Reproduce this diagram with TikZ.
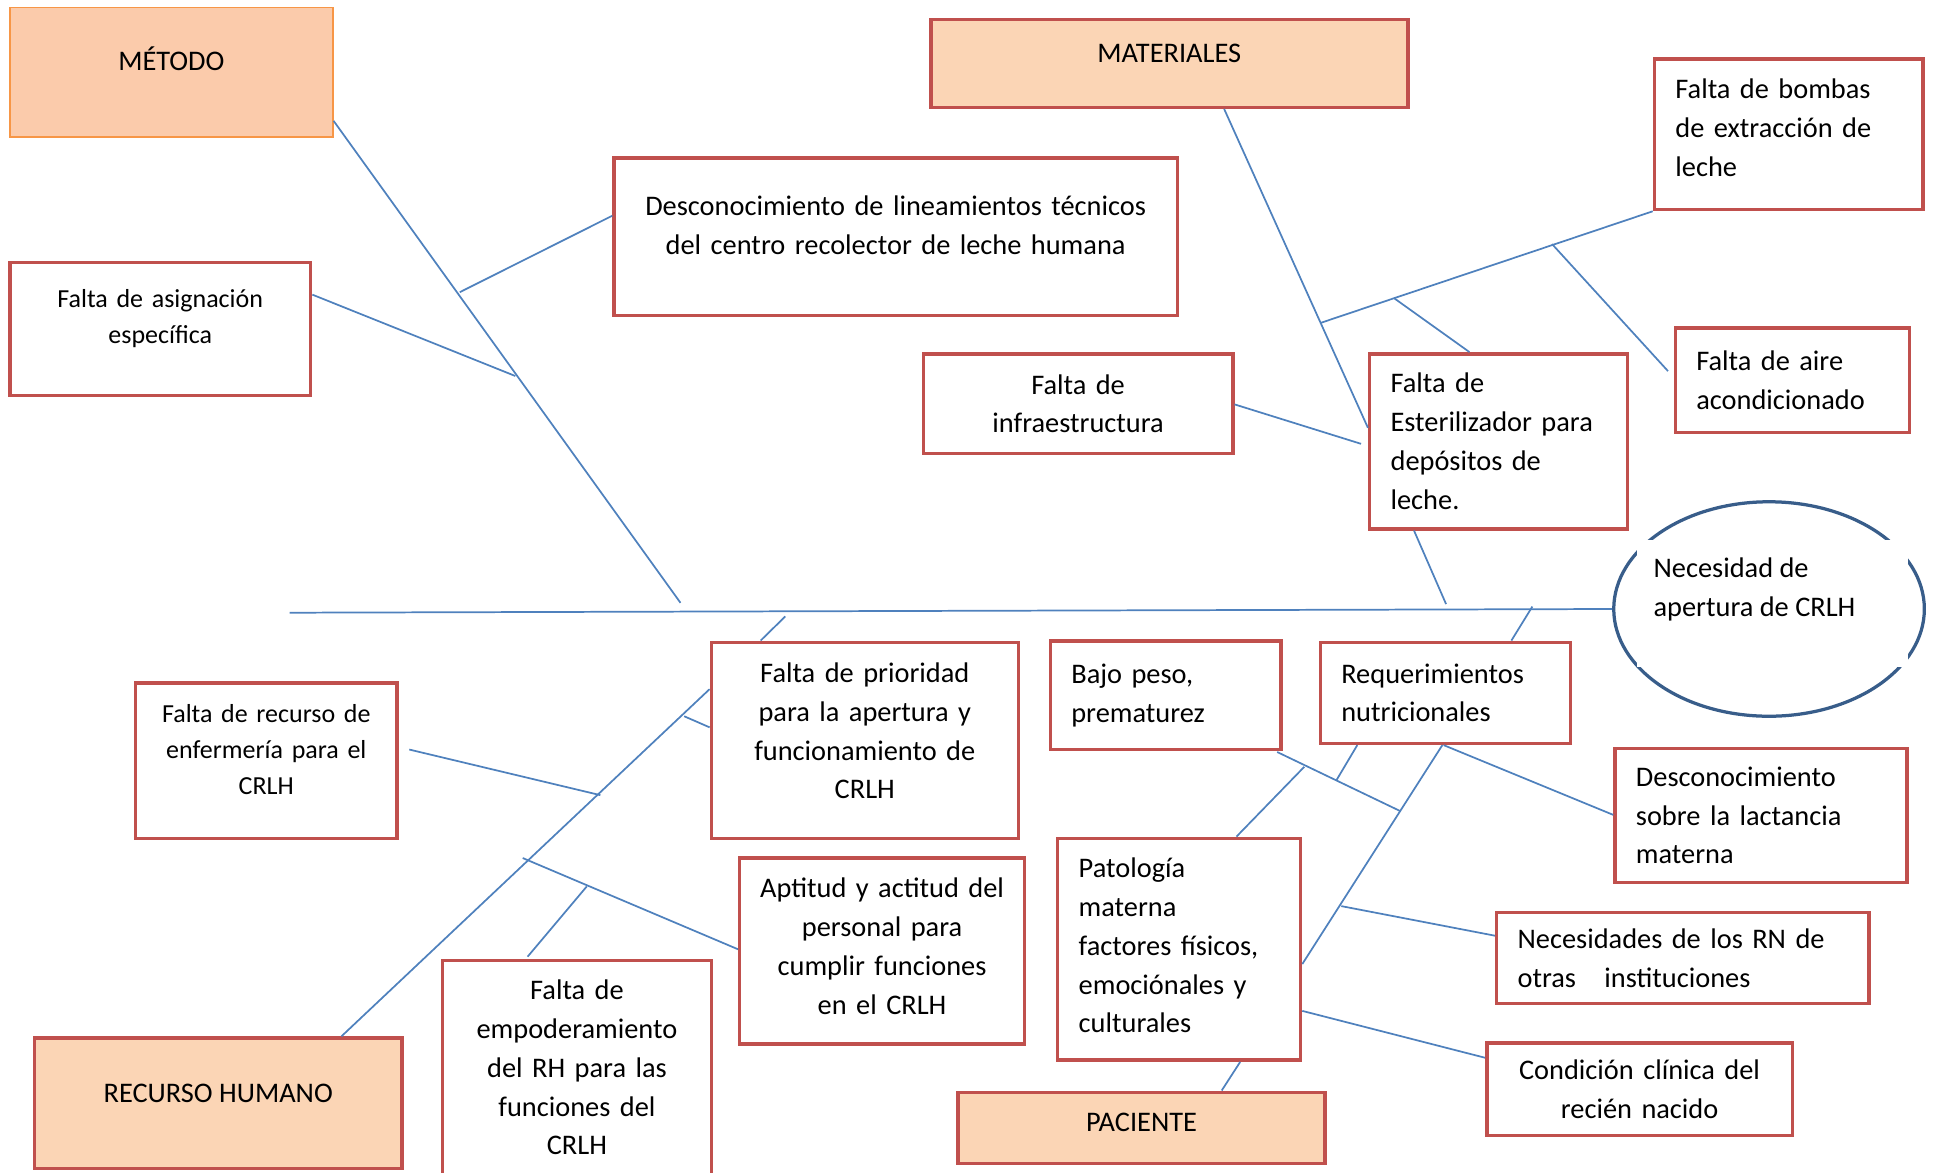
\documentclass[tikz,border=0pt]{standalone}
\usepackage{fontspec}
\setmainfont{Carlito}
\usepackage{tikz}
\usetikzlibrary{shapes.geometric}

\definecolor{boxred}{HTML}{C0504D}
\definecolor{peach}{HTML}{FBD5B5}
\definecolor{peachm}{HTML}{FBCBAB}
\definecolor{headorange}{HTML}{F79646}
\definecolor{bonecol}{HTML}{4F81BD}
\definecolor{ringcol}{HTML}{385D8A}

\begin{document}
\begin{tikzpicture}[x=0.02cm, y=-0.02cm,
    cause/.style={draw=boxred, line width=1.6pt, fill=white, inner xsep=0.34cm, inner ysep=0pt,
      font=\fontsize{13.1}{17.9}\selectfont},
    mid/.style={cause, align=center, inner xsep=0.2cm},
    lft/.style={cause, align=left},
    smalltxt/.style={font=\fontsize{12}{16.5}\selectfont},
    head/.style={cause, fill=peach},
    bone/.style={bonecol, line width=0.8pt},
    lift/.style={text depth=#1},
    lifttext/.style={execute at end node={\endgraf\vspace*{#1}}}]
\useasboundingbox (0,0) rectangle (1568,951);

% cabezas
\node[head, fill=peachm, draw=headorange, line width=0.7pt, minimum width=5.24cm, minimum height=2.10cm, lift=12pt] (metodo) at (139,58.5) {MÉTODO};
\node[head, minimum width=7.74cm, minimum height=1.42cm, lift=9pt] (materiales) at (948.5,51.5) {MATERIALES};
\node[head, minimum width=5.96cm, minimum height=2.12cm, lift=9pt] (rh) at (177,895) {RECURSO HUMANO};
\node[head, minimum width=5.96cm, minimum height=1.16cm, lift=5pt] (paciente) at (926,915) {PACIENTE};

% metodo
\node[mid, text width=8.74cm, minimum width=9.14cm, minimum height=2.56cm, lifttext=0.36cm] (desc) at (726.5,192)
  {Desconocimiento de lineamientos técnicos\\del centro recolector de leche humana};
\node[mid, smalltxt, text width=4.48cm, minimum width=4.88cm, minimum height=2.16cm, lifttext=0.34cm] (asig) at (130,267)
  {Falta de asignación\\específica};

% materiales
\node[mid, text width=4.62cm, minimum width=5.02cm, minimum height=1.62cm] (infra) at (874.5,327.5)
  {Falta de\\infraestructura};
\node[lft, text width=3.5cm, minimum width=4.18cm, minimum height=2.84cm] (ester) at (1215.5,358)
  {Falta de\\Esterilizador para\\depósitos de\\leche.};
\node[lft, text width=3.68cm, minimum width=4.36cm, minimum height=2.44cm, lifttext=0.22cm] (bombas) at (1451,109)
  {Falta de bombas\\de extracción de\\leche};
\node[lft, text width=3.12cm, minimum width=3.80cm, minimum height=1.70cm] (aire) at (1454,308.5)
  {Falta de aire\\acondicionado};

% recurso humano
\node[mid, text width=4.58cm, minimum width=4.98cm, minimum height=3.18cm, lifttext=0.3cm] (prior) at (701.5,600.5)
  {Falta de prioridad\\para la apertura y\\funcionamiento de\\CRLH};
\node[mid, smalltxt, text width=3.84cm, minimum width=4.24cm, minimum height=2.52cm, lifttext=0.36cm] (recurso) at (216,617)
  {Falta de recurso de\\enfermería para el\\CRLH};
\node[mid, text width=4.22cm, minimum width=4.62cm, minimum height=3.02cm, lifttext=0.16cm] (aptitud) at (715.5,771.5)
  {Aptitud y actitud del\\personal para\\cumplir funciones\\en el CRLH};
\node[mid, text width=3.96cm, minimum width=4.36cm, minimum height=3.48cm] (empod) at (468,866)
  {Falta de\\empoderamiento\\del RH para las\\funciones del\\CRLH};

% paciente
\node[lft, text width=3.06cm, minimum width=3.74cm, minimum height=1.76cm] (bajo) at (945.5,564)
  {Bajo peso,\\prematurez};
\node[lft, text width=3.38cm, minimum width=4.06cm, minimum height=1.64cm] (req) at (1172.5,562)
  {Requerimientos\\nutricionales};
\node[lft, text width=4.06cm, minimum width=4.74cm, minimum height=2.18cm] (lact) at (1428.5,661.5)
  {Desconocimiento\\sobre la lactancia\\materna};
\node[lft, text width=3.26cm, minimum width=3.94cm, minimum height=3.60cm, lifttext=0.12cm] (pato) at (956.5,770)
  {Patología\\materna\\factores físicos,\\emociónales y\\culturales};
\node[lft, text width=5.36cm, minimum width=6.04cm, minimum height=1.48cm] (neces) at (1365,777)
  {Necesidades de los RN de\\otras\ \ \ instituciones};
\node[mid, text width=4.56cm, minimum width=4.96cm, minimum height=1.50cm] (cond) at (1330,883.5)
  {Condición clínica del\\recién nacido};

% efecto
\node[ellipse, draw=ringcol, line width=1.5pt, minimum width=5.04cm, minimum height=3.48cm, inner sep=0pt] (efecto) at (1435,494) {};
\fill[white] (1328,438) rectangle (1548,541);
\node[align=left, inner sep=0pt, font=\fontsize{13.1}{17.9}\selectfont, anchor=west] (efecto-t) at (1341,478)
  {Necesidad de\\apertura de CRLH};

% espina
\coordinate (cola) at (235,497);
\draw[bone] (cola) -- (efecto.west);

% espinas metodo
\coordinate (m-fin) at (552,489);
\coordinate (j-desc) at (373,237);
\coordinate (j-asig) at (418,305);
\draw[bone] (metodo.east |- 0,98) -- (m-fin);
\draw[bone] (desc.west |- 0,175) -- (j-desc);
\draw[bone] (asig.east |- 0,239) -- (j-asig);

% espinas materiales
\coordinate (mat-fin) at (1173,490);
\coordinate (j-b0) at (1071,262);
\coordinate (j-b1) at (1131,242);
\coordinate (j-b2) at (1259,198);
\coordinate (a-fin) at (1353,301);
\coordinate (i-fin) at (1104,360);
\draw[bone] (993,0 |- materiales.south) -- (ester.west |- 0,347);
\draw[bone] (1147,0 |- ester.south) -- (mat-fin);
\draw[bone] (bombas.south west) -- (j-b0);
\draw[bone] (j-b1) -- (1192,0 |- ester.north);
\draw[bone] (j-b2) -- (a-fin);
\draw[bone] (infra.east |- 0,328) -- (i-fin);

% espinas recurso humano
\coordinate (p-fin) at (637,500);
\coordinate (j-rh) at (555,581);
\coordinate (r-ini) at (332,608);
\coordinate (j-rec) at (487,645);
\coordinate (j-apt) at (424,696);
\coordinate (j-emp) at (476,719);
\draw[bone] (617,0 |- prior.north) -- (p-fin);
\draw[bone] (277,0 |- rh.north) -- (prior.west |- 0,559);
\draw[bone] (j-rh) -- (prior.west |- 0,590);
\draw[bone] (r-ini) -- (j-rec);
\draw[bone] (j-apt) -- (aptitud.west |- 0,770);
\draw[bone] (428,776) -- (j-emp);

% espinas paciente
\coordinate (q-fin) at (1243,492);
\coordinate (j-bajo) at (1136,658);
\coordinate (j-req) at (1084,633);
\coordinate (j-pat) at (1058,622);
\coordinate (j-nec) at (1088,735);
\draw[bone] (1226,0 |- req.north) -- (q-fin);
\draw[bone] (1170,0 |- req.south) -- (pato.east |- 0,782);
\draw[bone] (1006,0 |- pato.south) -- (991,0 |- paciente.north);
\draw[bone] (1036,610) -- (j-bajo);
\draw[bone] (1101,0 |- req.south) -- (j-req);
\draw[bone] (1003,0 |- pato.north) -- (j-pat);
\draw[bone] (1171,0 |- req.south) -- (lact.west |- 0,661);
\draw[bone] (j-nec) -- (neces.west |- 0,759);
\draw[bone] (pato.east |- 0,820) -- (cond.west |- 0,858);
\end{tikzpicture}
\end{document}
